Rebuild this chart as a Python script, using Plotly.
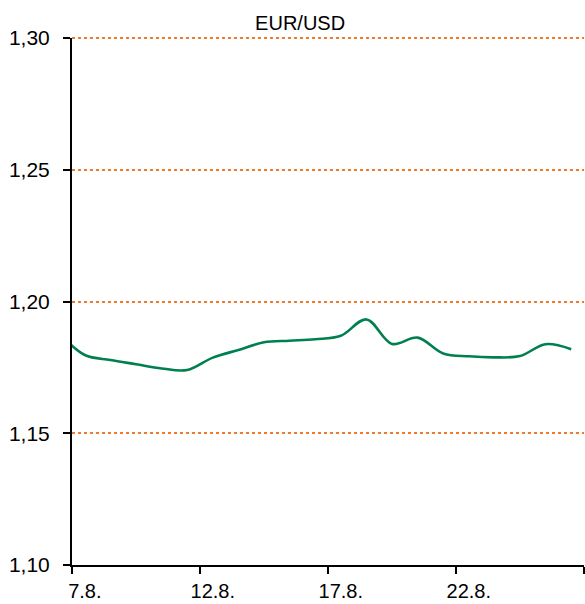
import plotly.graph_objects as go

# Daily values (day of August)
days = [6, 7, 8, 9, 10, 11, 12, 13, 14, 15, 16, 17, 18, 19, 20, 21, 22, 23, 24, 25, 26]
eur_usd = [1.1880, 1.1797, 1.1778, 1.1762, 1.1746, 1.1740, 1.1787, 1.1816, 1.1845,
           1.1851, 1.1857, 1.1870, 1.1932, 1.1839, 1.1863, 1.1803, 1.1792, 1.1788,
           1.1793, 1.1838, 1.1819]

tick_days = [7, 12, 17, 22]
tick_labels = ["7.8.", "12.8.", "17.8.", "22.8."]
y_ticks = [1.10, 1.15, 1.20, 1.25, 1.30]
y_top = 1.30

GREEN = "#007F4F"
ORANGE = "#F07A2A"

fig = go.Figure()
fig.add_trace(go.Scatter(
    x=days, y=eur_usd, mode="lines",
    line=dict(color=GREEN, width=2.6, shape="spline", smoothing=1.0),
    showlegend=False, hoverinfo="skip",
))

# top gridline (plotly skips a gridline that sits exactly on the plot edge)
fig.add_shape(type="line", xref="paper", x0=0, x1=1, yref="paper", y0=1, y1=1,
              line=dict(color=ORANGE, width=2, dash="dot"), layer="below")

fig.update_layout(
    width=585, height=604,
    margin=dict(l=72, r=1, t=38, b=39, pad=0),
    paper_bgcolor="white", plot_bgcolor="white",
    separators=",.",
    font=dict(family="Liberation Sans, Arial, sans-serif", color="black"),
    title=dict(text="EUR/USD", x=0.513, xanchor="center", y=0.962, yanchor="middle",
               font=dict(size=20, color="black", family="Liberation Sans, Arial, sans-serif")),
)

fig.update_xaxes(
    range=[6.5, 26.5], showgrid=False, zeroline=False, automargin=False,
    showline=True, linecolor="black", linewidth=2,
    tickmode="array", tickvals=tick_days, ticktext=tick_labels,
    ticks="outside", ticklen=7, tickcolor="rgba(0,0,0,0)",
    tickfont=dict(size=20, family="Liberation Sans, Arial, sans-serif"),
    minor=dict(tickmode="array", tickvals=[6.5, 11.5, 16.5, 21.5, 26.5],
               ticks="outside", ticklen=7, tickwidth=2, tickcolor="black", showgrid=False),
)

fig.update_yaxes(
    range=[1.10, y_top], tickmode="array", tickvals=y_ticks, tickformat=".2f",
    showline=True, linecolor="black", linewidth=2, automargin=False,
    ticks="outside", ticklen=7, tickwidth=2, tickcolor="black",
    ticklabelstandoff=9,
    showgrid=True, gridcolor=ORANGE, griddash="dot", gridwidth=2,
    zeroline=False,
    tickfont=dict(size=21, family="Liberation Sans, Arial, sans-serif"),
)

fig.write_html("out.html", config={"displayModeBar": False},
               post_script="document.body.style.margin='0';document.body.style.overflow='hidden';")
